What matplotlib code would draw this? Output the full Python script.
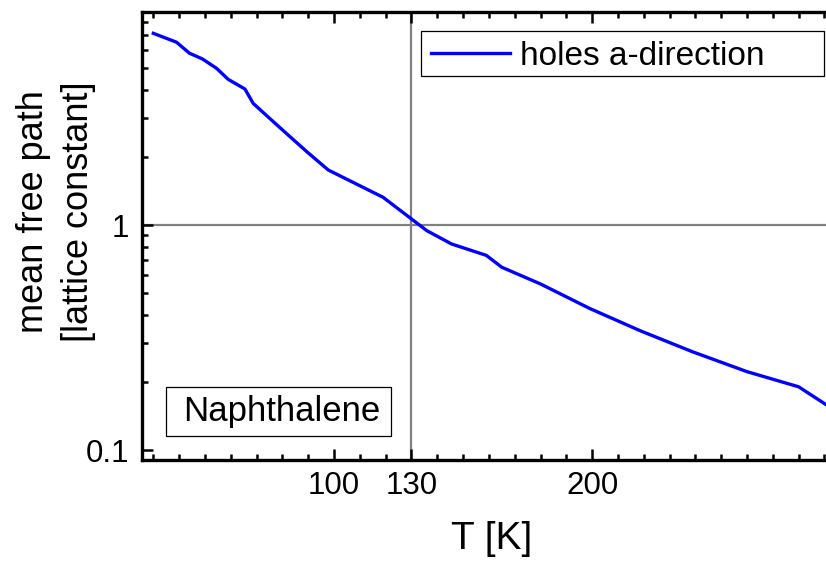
import matplotlib
matplotlib.use("Agg")
import matplotlib.pyplot as plt
from matplotlib.ticker import FixedLocator, LogLocator, NullFormatter, FixedFormatter
from matplotlib.patches import Rectangle

plt.rcParams['font.family'] = ['Liberation Sans', 'DejaVu Sans']

# data
T = [30, 39, 44, 49, 54.5, 59, 65.5, 68.7, 78.4, 89.4, 97.8, 119, 136, 145.6,
     159, 165, 180, 199, 218.6, 239, 260, 280, 290.3]
mfp = [7.11, 6.49, 5.80, 5.47, 4.97, 4.44, 4.02, 3.47, 2.75, 2.12, 1.755, 1.328,
       0.943, 0.823, 0.733, 0.649, 0.547, 0.426, 0.339, 0.273, 0.223, 0.191, 0.160]
series_label = "holes a-direction"
x_major = [100, 130, 200]
x_major_labels = ["100", "130", "200"]
y_major = [0.1, 1]
y_major_labels = ["0.1", "1"]
ref_T = 130
ref_mfp = 1

W, H = 826, 563
fig = plt.figure(figsize=(W / 100, H / 100), dpi=100)
left, right, top, bottom = 141.7, 826, 11.7, 460
ax = fig.add_axes([left / W, 1 - bottom / H, (right - left) / W, (bottom - top) / H])

ax.axvline(ref_T, color='#808080', lw=1.6, zorder=1)
ax.axhline(ref_mfp, color='#808080', lw=1.6, zorder=1)
line, = ax.plot(T, mfp, color='#0000ff', lw=2.4, label=series_label, zorder=3)

ax.set_yscale('log')
ax.set_xlim(25.5, 290.6)
ax.set_ylim(0.0903, 8.87)

ax.xaxis.set_major_locator(FixedLocator(x_major))
ax.xaxis.set_major_formatter(FixedFormatter(x_major_labels))
ax.xaxis.set_minor_locator(FixedLocator([v for v in range(30, 300, 10) if v not in x_major]))
ax.yaxis.set_major_locator(FixedLocator(y_major))
ax.yaxis.set_major_formatter(FixedFormatter(y_major_labels))
ax.yaxis.set_minor_locator(LogLocator(base=10, subs=range(2, 10)))
ax.yaxis.set_minor_formatter(NullFormatter())

for s in ['left', 'bottom', 'top']:
    ax.spines[s].set_linewidth(2.4)
ax.spines['right'].set_visible(False)

ax.tick_params(axis='both', which='both', direction='in', top=True, right=False)
ax.tick_params(axis='both', which='major', length=8, width=1.8, labelsize=22.5)
ax.tick_params(axis='both', which='minor', length=4, width=1.8)
ax.tick_params(axis='x', which='major', pad=8)
ax.tick_params(axis='y', which='major', pad=9)

fig.text(492 / W, 1 - 539 / H, "T [K]", fontsize=28, ha='center', va='center')
fig.text(56 / W, 1 - 212 / H, "mean free path\n[lattice constant]", fontsize=26,
         ha='center', va='center', rotation=90, linespacing=1.35, multialignment='center')

# legend box
leg_box = Rectangle((421 / W, 1 - 76 / H), (824 - 421) / W, (76 - 31) / H,
                    transform=fig.transFigure, facecolor='white',
                    edgecolor='black', lw=0.9, zorder=5, clip_on=False)
ax.add_artist(leg_box)
leg = ax.legend(loc='center left', bbox_to_anchor=(430.7 / W, 1 - 56.5 / H),
                bbox_transform=fig.transFigure, fontsize=24, frameon=False,
                borderaxespad=0, borderpad=0, handlelength=2.37, handletextpad=0.3)
leg.set_zorder(6)

nap_box = Rectangle((166 / W, 1 - 436 / H), (391 - 166) / W, (436 - 387) / H,
                    transform=fig.transFigure, facecolor='white',
                    edgecolor='black', lw=0.9, zorder=5, clip_on=False)
ax.add_artist(nap_box)
fig.text(281.5 / W, 1 - 412 / H, "Naphthalene", fontsize=25, ha='center', va='center', zorder=6)

fig.savefig("out.png", dpi=100)
